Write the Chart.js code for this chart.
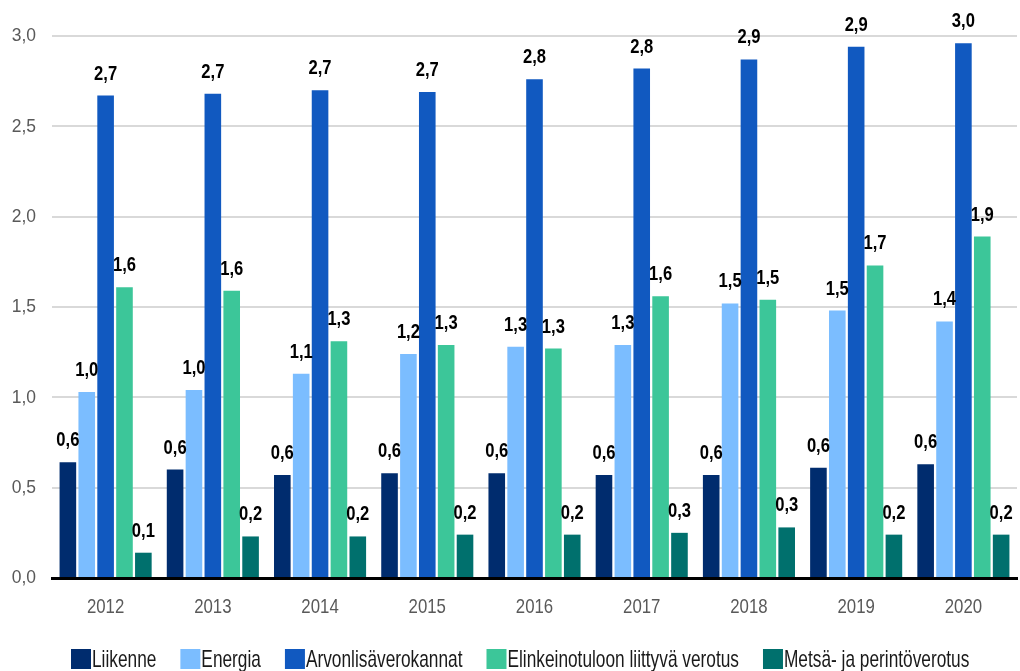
<!DOCTYPE html>
<html>
<head>
<meta charset="utf-8">
<script src="https://cdn.jsdelivr.net/npm/chart.js@4"></script>
<style>
html,body{margin:0;padding:0;background:#fff;}
#wrap{width:1020px;height:671px;position:relative;}
</style>
</head>
<body>
<div id="wrap"><canvas id="c" width="1020" height="671"></canvas></div>
<script>
const years = ['2012','2013','2014','2015','2016','2017','2018','2019','2020'];
const seriesNames = ['Liikenne','Energia','Arvonlisäverokannat','Elinkeinotuloon liittyvä verotus','Metsä- ja perintöverotus'];
const liikenne  = [0.64,0.60,0.57,0.58,0.58,0.57,0.57,0.61,0.63];
const energia   = [1.03,1.04,1.13,1.24,1.28,1.29,1.52,1.48,1.42];
const arvonlisa = [2.67,2.68,2.70,2.69,2.76,2.82,2.87,2.94,2.96];
const elinkeino = [1.61,1.59,1.31,1.29,1.27,1.56,1.54,1.73,1.89];
const metsa     = [0.14,0.23,0.23,0.24,0.24,0.25,0.28,0.24,0.24];
const yTicks = [0,0.5,1.0,1.5,2.0,2.5,3.0];

const colors = ['#002C6E','#7BBDFF','#1159C0','#3CC699','#00706D'];
const FONT = '"Liberation Sans",Arial,sans-serif';
const fmt = v => v.toFixed(1).replace('.', ',');

// draw condensed text by horizontal scaling
function condText(ctx, text, x, y, sx, align){
  ctx.save();
  ctx.translate(x, y);
  ctx.scale(sx, 1);
  ctx.textAlign = align;
  ctx.fillText(text, 0, 0);
  ctx.restore();
}
function condWidth(ctx, text, sx){ return ctx.measureText(text).width * sx; }

const valueLabels = {
  id:'valueLabels',
  afterDatasetsDraw(chart){
    const ctx = chart.ctx;
    ctx.save();
    ctx.font = 'bold 21px ' + FONT;
    ctx.fillStyle = '#000';
    ctx.textBaseline = 'alphabetic';
    chart.data.datasets.forEach((ds,i)=>{
      const meta = chart.getDatasetMeta(i);
      meta.data.forEach((bar,j)=>{
        condText(ctx, fmt(ds.data[j]), bar.x, bar.y - 16, 0.79, 'center');
      });
    });
    ctx.restore();
  }
};

const axisLabels = {
  id:'axisLabels',
  afterDraw(chart){
    const ctx = chart.ctx;
    const xs = chart.scales.x, ys = chart.scales.y;
    ctx.save();
    ctx.fillStyle = '#595959';
    ctx.textBaseline = 'middle';
    ctx.font = '19px ' + FONT;
    yTicks.forEach(v=>{
      condText(ctx, fmt(v), chart.chartArea.left - 16, ys.getPixelForValue(v), 0.92, 'right');
    });
    ctx.font = '21px ' + FONT;
    chart.data.labels.forEach((lab,i)=>{
      condText(ctx, lab, xs.getPixelForValue(i), 607, 0.8, 'center');
    });
    ctx.restore();
  }
};

const customLegend = {
  id:'customLegend',
  afterDraw(chart){
    const ctx = chart.ctx;
    ctx.save();
    ctx.font = '24px ' + FONT;
    ctx.textBaseline = 'middle';
    const sx = 0.72;
    const box = 20, gapText = 1, gap = 24;
    let x = 71;
    const y = 659;
    chart.data.datasets.forEach(ds=>{
      ctx.fillStyle = ds.backgroundColor;
      ctx.fillRect(x, y - box/2, box, box);
      ctx.fillStyle = '#1a1a1a';
      condText(ctx, ds.label, x + box + gapText, y + 1, sx, 'left');
      x += box + gapText + condWidth(ctx, ds.label, sx) + gap;
    });
    ctx.restore();
  }
};

const allSeries = [liikenne, energia, arvonlisa, elinkeino, metsa];
new Chart(document.getElementById('c'), {
  type:'bar',
  data:{
    labels: years,
    datasets: allSeries.map((d,i)=>({
      label: seriesNames[i],
      data: d,
      backgroundColor: colors[i],
      borderWidth: 0,
      categoryPercentage: 0.88,
      barPercentage: 0.88
    }))
  },
  options:{
    responsive:false,
    animation:false,
    devicePixelRatio:1,
    layout:{padding:{top:36,right:3,bottom:85,left:0}},
    plugins:{legend:{display:false},tooltip:{enabled:false}},
    scales:{
      x:{
        grid:{display:false},
        border:{display:true,color:'#000',width:3},
        ticks:{display:false}
      },
      y:{
        min:0,max:3,
        afterBuildTicks(scale){ scale.ticks = yTicks.map(v=>({value:v})); },
        afterFit(scale){ scale.width = 52; },
        grid:{color:'#d9d9d9',lineWidth:2,drawTicks:false},
        border:{display:false},
        ticks:{display:false}
      }
    }
  },
  plugins:[valueLabels, axisLabels, customLegend]
});
</script>
</body>
</html>
